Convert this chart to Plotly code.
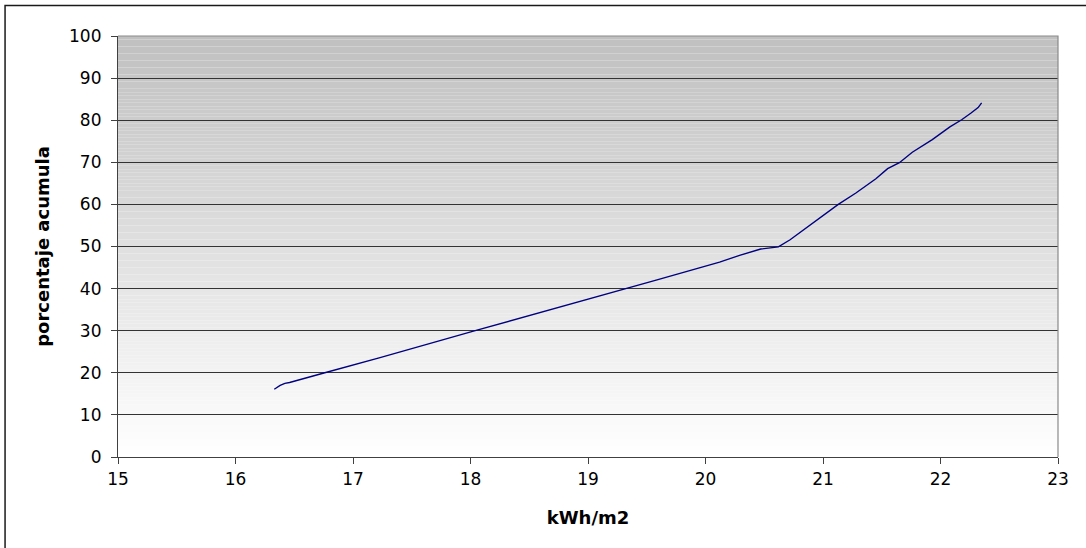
import plotly.graph_objects as go

# Cumulative percentage vs. annual irradiation (kWh/m2)
kwh = [16.33, 16.38, 16.42, 16.46, 16.76, 17.17, 17.23, 18.04, 18.93, 18.99,
       19.32, 19.58, 20.12, 20.29, 20.47, 20.62, 20.72, 20.89, 20.97, 21.13,
       21.28, 21.37, 21.45, 21.55, 21.65, 21.76, 21.93, 22.08, 22.18, 22.26,
       22.32, 22.35]
porcentaje = [16.1, 17.0, 17.5, 17.7, 20.0, 23.0, 23.6, 30.0, 36.9, 37.3,
              40.0, 42.0, 46.3, 47.9, 49.4, 49.9, 51.6, 55.0, 56.6, 60.0,
              62.7, 64.5, 66.1, 68.5, 69.9, 72.4, 75.4, 78.4, 80.1, 81.7,
              83.0, 84.1]

x_ticks = list(range(15, 24))
y_ticks = list(range(0, 101, 10))

W, H = 1086, 548
ML, MR, MT, MB = 118, 27.5, 35.5, 91
pw = W - ML - MR
ph = H - MT - MB

fig = go.Figure()
fig.add_trace(go.Scatter(
    x=kwh, y=porcentaje, mode="lines",
    line=dict(color="#000080", width=1.4),
    showlegend=False, hoverinfo="x+y",
))

shapes = []
# vertical grey gradient behind the plot area (dark at top, white at bottom)
n = 120
for i in range(n):
    t = i / (n - 1)
    v = int(round(255 - (255 - 192) * t))
    c = f"rgb({v},{v},{v})"
    shapes.append(dict(
        type="rect", xref="paper", yref="paper", layer="below",
        x0=0, x1=1, y0=i / n, y1=(i + 1) / n,
        fillcolor=c, line=dict(width=0),
    ))
# grey border on the top and right of the plot area
shapes.append(dict(
    type="path", xref="paper", yref="paper", layer="above",
    path="M 0,1 L 1,1 L 1,0",
    line=dict(color="#8a8a8a", width=1.2),
))
# outer chart frame
fx0 = (5 - ML) / pw
fy1 = (H - MB - 5) / ph
shapes.append(dict(
    type="rect", xref="paper", yref="paper", layer="above",
    x0=fx0, x1=1.5, y0=-1.0, y1=fy1,
    line=dict(color="#1a1a1a", width=1.5),
))

fig.update_layout(
    width=W, height=H,
    margin=dict(l=ML, r=MR, t=MT, b=MB),
    paper_bgcolor="white",
    plot_bgcolor="white",
    font=dict(family="DejaVu Sans, sans-serif", size=17, color="black"),
    shapes=shapes,
    xaxis=dict(
        range=[15, 23], tickvals=x_ticks, ticktext=[str(v) for v in x_ticks],
        showgrid=False, zeroline=False,
        showline=True, linecolor="#404040", linewidth=1.2,
        ticks="outside", ticklen=6, tickcolor="#404040",
        tickfont=dict(size=17),
        title=dict(text="<b>kWh/m2</b>", font=dict(size=18), standoff=23),
    ),
    yaxis=dict(
        range=[0, 100], tickvals=y_ticks, ticktext=[str(v) for v in y_ticks],
        showgrid=True, gridcolor="#333333", gridwidth=1, zeroline=False,
        showline=True, linecolor="#404040", linewidth=1.2,
        ticks="outside", ticklen=6, tickcolor="#404040",
        tickfont=dict(size=17), ticklabelstandoff=6,
        title=dict(text="<b>porcentaje acumula</b>", font=dict(size=18), standoff=14),
    ),
)

fig.write_html("out.html")
